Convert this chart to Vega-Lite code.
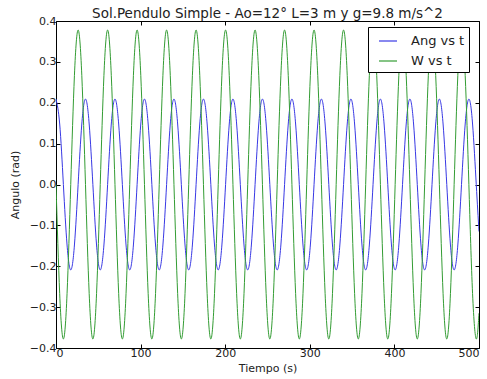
{
  "$schema": "https://vega.github.io/schema/vega-lite/v6.json",
  "width": 423,
  "height": 327,
  "autosize": {"type": "none"},
  "padding": {"left": 56, "top": 21, "right": 8, "bottom": 31},
  "background": "white",
  "config": {
    "font": "DejaVu Sans",
    "view": {"stroke": "#000000", "strokeWidth": 1},
    "axis": {
      "grid": false,
      "domain": false,
      "tickColor": "#000000",
      "tickSize": -4,
      "labelColor": "#222222",
      "labelFontSize": 11,
      "titleFontSize": 11,
      "titleFontWeight": "normal",
      "titleColor": "#222222",
      "labelFont": "DejaVu Sans",
      "titleFont": "DejaVu Sans"
    }
  },
  "title": {
    "text": "Sol.Pendulo Simple - Ao=12° L=3 m y g=9.8 m/s^2",
    "fontSize": 13.5,
    "fontWeight": "normal",
    "font": "DejaVu Sans",
    "color": "#222222",
    "offset": -5
  },
  "data": {
    "values": [
      {"t": 0, "ang": 0.209, "w": 0},
      {"t": 4.36, "ang": 0.148, "w": -0.267},
      {"t": 8.72, "ang": 0, "w": -0.378},
      {"t": 13.07, "ang": -0.148, "w": -0.267},
      {"t": 17.43, "ang": -0.209, "w": 0},
      {"t": 21.79, "ang": -0.148, "w": 0.267},
      {"t": 26.15, "ang": 0, "w": 0.378},
      {"t": 30.50, "ang": 0.148, "w": 0.267},
      {"t": 34.86, "ang": 0.209, "w": 0},
      {"t": 39.22, "ang": 0.148, "w": -0.267},
      {"t": 43.58, "ang": 0, "w": -0.378},
      {"t": 47.93, "ang": -0.148, "w": -0.267},
      {"t": 52.29, "ang": -0.209, "w": 0},
      {"t": 56.65, "ang": -0.148, "w": 0.267},
      {"t": 61.01, "ang": 0, "w": 0.378},
      {"t": 65.36, "ang": 0.148, "w": 0.267},
      {"t": 69.72, "ang": 0.209, "w": 0},
      {"t": 74.08, "ang": 0.148, "w": -0.267},
      {"t": 78.44, "ang": 0, "w": -0.378},
      {"t": 82.79, "ang": -0.148, "w": -0.267},
      {"t": 87.15, "ang": -0.209, "w": 0},
      {"t": 91.51, "ang": -0.148, "w": 0.267},
      {"t": 95.87, "ang": 0, "w": 0.378},
      {"t": 100.22, "ang": 0.148, "w": 0.267},
      {"t": 104.58, "ang": 0.209, "w": 0},
      {"t": 108.94, "ang": 0.148, "w": -0.267},
      {"t": 113.30, "ang": 0, "w": -0.378},
      {"t": 117.65, "ang": -0.148, "w": -0.267},
      {"t": 122.01, "ang": -0.209, "w": 0},
      {"t": 126.37, "ang": -0.148, "w": 0.267},
      {"t": 130.73, "ang": 0, "w": 0.378},
      {"t": 135.08, "ang": 0.148, "w": 0.267},
      {"t": 139.44, "ang": 0.209, "w": 0},
      {"t": 143.80, "ang": 0.148, "w": -0.267},
      {"t": 148.16, "ang": 0, "w": -0.378},
      {"t": 152.51, "ang": -0.148, "w": -0.267},
      {"t": 156.87, "ang": -0.209, "w": 0},
      {"t": 161.23, "ang": -0.148, "w": 0.267},
      {"t": 165.59, "ang": 0, "w": 0.378},
      {"t": 169.94, "ang": 0.148, "w": 0.267},
      {"t": 174.30, "ang": 0.209, "w": 0},
      {"t": 178.66, "ang": 0.148, "w": -0.267},
      {"t": 183.02, "ang": 0, "w": -0.378},
      {"t": 187.37, "ang": -0.148, "w": -0.267},
      {"t": 191.73, "ang": -0.209, "w": 0},
      {"t": 196.09, "ang": -0.148, "w": 0.267},
      {"t": 200.45, "ang": 0, "w": 0.378},
      {"t": 204.80, "ang": 0.148, "w": 0.267},
      {"t": 209.16, "ang": 0.209, "w": 0},
      {"t": 213.52, "ang": 0.148, "w": -0.267},
      {"t": 217.88, "ang": 0, "w": -0.378},
      {"t": 222.23, "ang": -0.148, "w": -0.267},
      {"t": 226.59, "ang": -0.209, "w": 0},
      {"t": 230.95, "ang": -0.148, "w": 0.267},
      {"t": 235.31, "ang": 0, "w": 0.378},
      {"t": 239.66, "ang": 0.148, "w": 0.267},
      {"t": 244.02, "ang": 0.209, "w": 0},
      {"t": 248.38, "ang": 0.148, "w": -0.267},
      {"t": 252.74, "ang": 0, "w": -0.378},
      {"t": 257.09, "ang": -0.148, "w": -0.267},
      {"t": 261.45, "ang": -0.209, "w": 0},
      {"t": 265.81, "ang": -0.148, "w": 0.267},
      {"t": 270.17, "ang": 0, "w": 0.378},
      {"t": 274.52, "ang": 0.148, "w": 0.267},
      {"t": 278.88, "ang": 0.209, "w": 0},
      {"t": 283.24, "ang": 0.148, "w": -0.267},
      {"t": 287.60, "ang": 0, "w": -0.378},
      {"t": 291.95, "ang": -0.148, "w": -0.267},
      {"t": 296.31, "ang": -0.209, "w": 0},
      {"t": 300.67, "ang": -0.148, "w": 0.267},
      {"t": 305.03, "ang": 0, "w": 0.378},
      {"t": 309.38, "ang": 0.148, "w": 0.267},
      {"t": 313.74, "ang": 0.209, "w": 0},
      {"t": 318.10, "ang": 0.148, "w": -0.267},
      {"t": 322.46, "ang": 0, "w": -0.378},
      {"t": 326.81, "ang": -0.148, "w": -0.267},
      {"t": 331.17, "ang": -0.209, "w": 0},
      {"t": 335.53, "ang": -0.148, "w": 0.267},
      {"t": 339.89, "ang": 0, "w": 0.378},
      {"t": 344.24, "ang": 0.148, "w": 0.267},
      {"t": 348.60, "ang": 0.209, "w": 0},
      {"t": 352.96, "ang": 0.148, "w": -0.267},
      {"t": 357.32, "ang": 0, "w": -0.378},
      {"t": 361.67, "ang": -0.148, "w": -0.267},
      {"t": 366.03, "ang": -0.209, "w": 0},
      {"t": 370.39, "ang": -0.148, "w": 0.267},
      {"t": 374.75, "ang": 0, "w": 0.378},
      {"t": 379.10, "ang": 0.148, "w": 0.267},
      {"t": 383.46, "ang": 0.209, "w": 0},
      {"t": 387.82, "ang": 0.148, "w": -0.267},
      {"t": 392.18, "ang": 0, "w": -0.378},
      {"t": 396.53, "ang": -0.148, "w": -0.267},
      {"t": 400.89, "ang": -0.209, "w": 0},
      {"t": 405.25, "ang": -0.148, "w": 0.267},
      {"t": 409.61, "ang": 0, "w": 0.378},
      {"t": 413.96, "ang": 0.148, "w": 0.267},
      {"t": 418.32, "ang": 0.209, "w": 0},
      {"t": 422.68, "ang": 0.148, "w": -0.267},
      {"t": 427.04, "ang": 0, "w": -0.378},
      {"t": 431.39, "ang": -0.148, "w": -0.267},
      {"t": 435.75, "ang": -0.209, "w": 0},
      {"t": 440.11, "ang": -0.148, "w": 0.267},
      {"t": 444.47, "ang": 0, "w": 0.378},
      {"t": 448.82, "ang": 0.148, "w": 0.267},
      {"t": 453.18, "ang": 0.209, "w": 0},
      {"t": 457.54, "ang": 0.148, "w": -0.267},
      {"t": 461.90, "ang": 0, "w": -0.378},
      {"t": 466.25, "ang": -0.148, "w": -0.267},
      {"t": 470.61, "ang": -0.209, "w": 0},
      {"t": 474.97, "ang": -0.148, "w": 0.267},
      {"t": 479.33, "ang": 0, "w": 0.378},
      {"t": 483.68, "ang": 0.148, "w": 0.267},
      {"t": 488.04, "ang": 0.209, "w": 0},
      {"t": 492.40, "ang": 0.148, "w": -0.267},
      {"t": 496.76, "ang": 0, "w": -0.378},
      {"t": 500, "ang": -0.115, "w": -0.315}
    ]
  },
  "layer": [
    {
      "mark": {"type": "line", "interpolate": "natural", "strokeWidth": 1, "clip": true},
      "encoding": {
        "x": {
          "field": "t", "type": "quantitative",
          "scale": {"domain": [0, 500], "nice": false, "zero": false},
          "axis": {"orient": "bottom", "values": [0, 100, 200, 300, 400, 500], "title": "Tiempo (s)", "labelPadding": 3, "titlePadding": 4}
        },
        "y": {
          "field": "ang", "type": "quantitative",
          "scale": {"domain": [-0.4, 0.4], "nice": false},
          "axis": {"orient": "left", "values": [-0.4, -0.3, -0.2, -0.1, 0, 0.1, 0.2, 0.3, 0.4], "format": ".1f", "title": "Angulo (rad)", "labelPadding": 4, "titlePadding": 9}
        },
        "color": {
          "datum": "Ang vs t", "type": "nominal",
          "scale": {"domain": ["Ang vs t", "W vs t"], "range": ["#3838e4", "#339c33"]},
          "legend": {
            "title": null,
            "orient": "none",
            "legendX": 312,
            "legendY": 6,
            "symbolType": "stroke",
            "symbolSize": 324,
            "symbolStrokeWidth": 1.2,
            "symbolOffset": 6,
            "labelFontSize": 13,
            "labelColor": "#222222",
            "labelFont": "DejaVu Sans",
            "labelOffset": 13,
            "padding": 4,
            "rowPadding": 3,
            "strokeColor": "#000000",
            "fillColor": "#ffffff",
            "cornerRadius": 0
          }
        }
      }
    },
    {
      "mark": {"type": "line", "interpolate": "natural", "strokeWidth": 1, "clip": true},
      "encoding": {
        "x": {
          "field": "t", "type": "quantitative",
          "axis": {"orient": "top", "values": [0, 100, 200, 300, 400, 500], "labels": false, "title": null}
        },
        "y": {
          "field": "w", "type": "quantitative",
          "axis": {"orient": "right", "values": [-0.4, -0.3, -0.2, -0.1, 0, 0.1, 0.2, 0.3, 0.4], "labels": false, "title": null}
        },
        "color": {"datum": "W vs t", "type": "nominal"}
      }
    }
  ],
  "resolve": {"axis": {"x": "independent", "y": "independent"}}
}
